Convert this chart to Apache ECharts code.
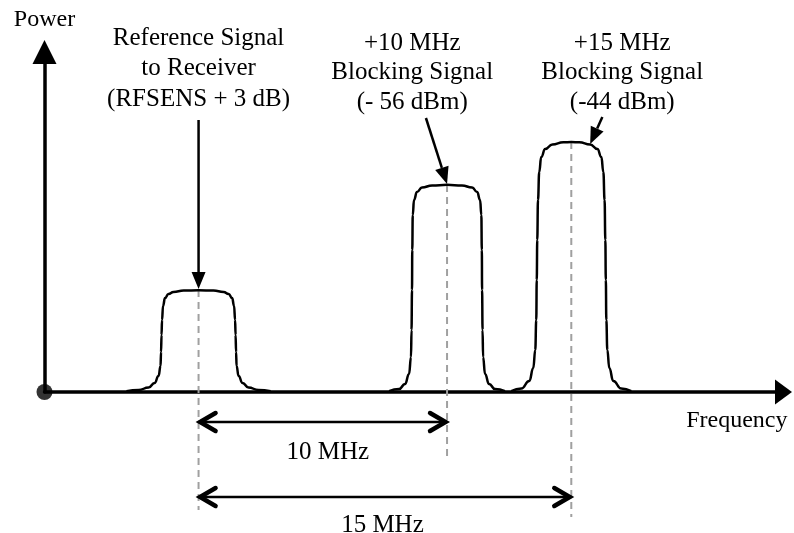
<!DOCTYPE html>
<html>
<head>
<meta charset="utf-8">
<title>Blocking test</title>
<script src="https://cdn.jsdelivr.net/npm/echarts@6/dist/echarts.min.js"></script>
<style>
html, body { margin: 0; padding: 0; background: #fff; }
#main { width: 794px; height: 533px; }
</style>
</head>
<body>
<div id="main"></div>
<script>
// frequency in MHz relative to the reference signal, power in arbitrary units
var refX = [-2.90, -2.41, -2.01, -1.77, -1.61, -1.53, -1.51, -1.49, -1.47, -1.43, -1.35, -1.21, -1.01, -0.60, 0,
  0.60, 1.01, 1.21, 1.35, 1.43, 1.47, 1.49, 1.51, 1.53, 1.61, 1.77, 2.01, 2.41, 2.90];
var refY = [0.08, 0.2, 0.45, 0.9, 1.6, 2.6, 4.0, 5.7, 7.2, 8.6, 9.4, 9.8, 10.0, 10.14, 10.18,
  10.14, 10.0, 9.8, 9.4, 8.6, 7.2, 5.7, 4.0, 2.6, 1.6, 0.9, 0.45, 0.2, 0.08];

var block10X = [7.67, 8.07, 8.31, 8.47, 8.55, 8.57, 8.59, 8.60, 8.62, 8.67, 8.79, 8.99, 9.40, 10,
  10.60, 11.01, 11.21, 11.33, 11.38, 11.40, 11.41, 11.43, 11.45, 11.53, 11.69, 11.93, 12.33];
var block10Y = [0.08, 0.3, 0.8, 1.8, 3.5, 6.2, 10.2, 14.2, 17.7, 19.2, 20.0, 20.45, 20.65, 20.72,
  20.65, 20.45, 20.0, 19.2, 17.7, 14.2, 10.2, 6.2, 3.5, 1.8, 0.8, 0.3, 0.08];

var block15X = [12.59, 12.99, 13.31, 13.47, 13.55, 13.59, 13.61, 13.63, 13.66, 13.71, 13.79, 13.95, 14.24, 14.68, 15,
  15.32, 15.76, 16.05, 16.21, 16.29, 16.34, 16.37, 16.39, 16.41, 16.45, 16.53, 16.69, 17.01, 17.41];
var block15Y = [0.08, 0.35, 1.1, 2.4, 4.2, 7.2, 11.2, 15.2, 19.2, 22.0, 23.5, 24.3, 24.75, 24.97, 25.0,
  24.97, 24.75, 24.3, 23.5, 22.0, 19.2, 15.2, 11.2, 7.2, 4.2, 2.4, 1.1, 0.35, 0.08];

// dashed centre lines
var guideX = [0, 10, 15];
var guideTop = [10.2, 20.7, 25.0];
var guideBottom = [-11.8, -6.5, -12.5];

// frequency offset spans
var spanEnd = [10, 15];
var spanLevel = [-3.0, -10.5];
var spanText = ['10 MHz', '15 MHz'];
var spanTextX = [5.2, 7.4];
var spanTextLevel = [-6.0, -13.3];

// callouts
var noteText = [
  'Reference Signal\nto Receiver\n(RFSENS + 3 dB)',
  '+10 MHz\nBlocking Signal\n(- 56 dBm)',
  '+15 MHz\nBlocking Signal\n(-44 dBm)'
];
var noteX = [0, 8.6, 17.05];
var noteLevel = [32.35, 31.95, 31.95];
var arrowFromX = [0, 9.15, 16.25];
var arrowFromY = [27.2, 27.4, 27.5];
var arrowToX = [0, 10, 15.76];
var arrowToY = [10.3, 20.8, 24.8];

var origin = [[-6.2, 0]];

var FONT = '"Liberation Serif", "Times New Roman", serif';

function zip(xs, ys) {
  return xs.map(function (x, i) { return [x, ys[i]]; });
}

function signalSeries(xs, ys) {
  return {
    type: 'line',
    data: zip(xs, ys),
    smooth: 0.5,
    smoothMonotone: 'x',
    symbol: 'none',
    silent: true,
    lineStyle: { color: '#000', width: 2.5 },
    z: 3
  };
}

var myChart = echarts.init(document.getElementById('main'));

var option = {
  animation: false,
  backgroundColor: '#fff',
  grid: { left: 44.5, right: 10.5, top: 52, bottom: 141 },
  xAxis: {
    type: 'value',
    min: -6.2,
    max: 23.54,
    name: 'Frequency',
    nameLocation: 'end',
    nameGap: 4,
    nameTextStyle: {
      fontFamily: FONT, fontSize: 24, color: '#000',
      align: 'right', verticalAlign: 'top', padding: [17, 0, 0, 0]
    },
    axisLine: {
      onZero: false,
      lineStyle: { color: '#000', width: 3.5 },
      symbol: ['none', 'triangle'],
      symbolSize: [25, 17]
    },
    axisTick: { show: false },
    axisLabel: { show: false },
    splitLine: { show: false }
  },
  yAxis: {
    type: 'value',
    min: 0,
    max: 34.0,
    name: 'Power',
    nameLocation: 'end',
    nameGap: 20,
    nameTextStyle: { fontFamily: FONT, fontSize: 24, color: '#000' },
    axisLine: {
      show: true,
      onZero: false,
      lineStyle: { color: '#000', width: 3.5 },
      symbol: ['none', 'triangle'],
      symbolSize: [24, 24]
    },
    axisTick: { show: false },
    axisLabel: { show: false },
    splitLine: { show: false }
  },
  series: [
    signalSeries(refX, refY),
    signalSeries(block10X, block10Y),
    signalSeries(block15X, block15Y),
    {
      // dashed centre lines
      type: 'custom',
      clip: false,
      silent: true,
      z: 2,
      data: guideX.map(function (x, i) { return [x, guideTop[i], guideBottom[i]]; }),
      renderItem: function (params, api) {
        var a = api.coord([api.value(0), api.value(1)]);
        var b = api.coord([api.value(0), api.value(2)]);
        return {
          type: 'line',
          shape: { x1: a[0], y1: a[1], x2: b[0], y2: b[1] },
          style: { stroke: '#a0a0a0', lineWidth: 2, lineDash: [7, 5] }
        };
      }
    },
    {
      // offset spans with double arrows
      type: 'custom',
      clip: false,
      silent: true,
      z: 4,
      data: spanEnd.map(function (x, i) { return [0, x, spanLevel[i], spanTextX[i], spanTextLevel[i]]; }),
      renderItem: function (params, api) {
        var a = api.coord([api.value(0), api.value(2)]);
        var b = api.coord([api.value(1), api.value(2)]);
        var t = api.coord([api.value(3), api.value(4)]);
        var head = 17, spread = 9;
        return {
          type: 'group',
          children: [
            { type: 'line', shape: { x1: a[0], y1: a[1], x2: b[0], y2: b[1] },
              style: { stroke: '#000', lineWidth: 2.5 } },
            { type: 'polyline', shape: { points: [[a[0] + head, a[1] - spread], [a[0] + 1.5, a[1]], [a[0] + head, a[1] + spread]] },
              style: { stroke: '#000', lineWidth: 4.5, fill: null, lineCap: 'round' } },
            { type: 'polyline', shape: { points: [[b[0] - head, b[1] - spread], [b[0] - 1.5, b[1]], [b[0] - head, b[1] + spread]] },
              style: { stroke: '#000', lineWidth: 4.5, fill: null, lineCap: 'round' } },
            { type: 'text', x: t[0], y: t[1],
              style: { text: spanText[params.dataIndex], fontFamily: FONT, fontSize: 25, fill: '#000',
                align: 'center', verticalAlign: 'middle' } }
          ]
        };
      }
    },
    {
      // callout texts and arrows
      type: 'custom',
      clip: false,
      silent: true,
      z: 5,
      data: noteX.map(function (x, i) {
        return [x, noteLevel[i], arrowFromX[i], arrowFromY[i], arrowToX[i], arrowToY[i]];
      }),
      renderItem: function (params, api) {
        var t = api.coord([api.value(0), api.value(1)]);
        var p0 = api.coord([api.value(2), api.value(3)]);
        var p1 = api.coord([api.value(4), api.value(5)]);
        var ang = Math.atan2(p1[1] - p0[1], p1[0] - p0[0]);
        var len = 17, half = 7;
        var bx = p1[0] - len * Math.cos(ang);
        var by = p1[1] - len * Math.sin(ang);
        var nx = -Math.sin(ang), ny = Math.cos(ang);
        var lh = params.dataIndex === 0 ? 30.5 : 29.5;
        return {
          type: 'group',
          children: [
            { type: 'text', x: t[0], y: t[1],
              style: { text: noteText[params.dataIndex], fontFamily: FONT, fontSize: 25, lineHeight: lh,
                fill: '#000', align: 'center', verticalAlign: 'middle' } },
            { type: 'line', shape: { x1: p0[0], y1: p0[1], x2: bx, y2: by },
              style: { stroke: '#000', lineWidth: 2.5 } },
            { type: 'polygon', shape: { points: [p1, [bx + nx * half, by + ny * half], [bx - nx * half, by - ny * half]] },
              style: { fill: '#000' } }
          ]
        };
      }
    },
    {
      // origin dot
      type: 'scatter',
      data: origin,
      symbol: 'circle',
      symbolSize: 16,
      clip: false,
      silent: true,
      itemStyle: { color: '#000' },
      z: 6
    }
  ]
};

myChart.setOption(option);
</script>
</body>
</html>
